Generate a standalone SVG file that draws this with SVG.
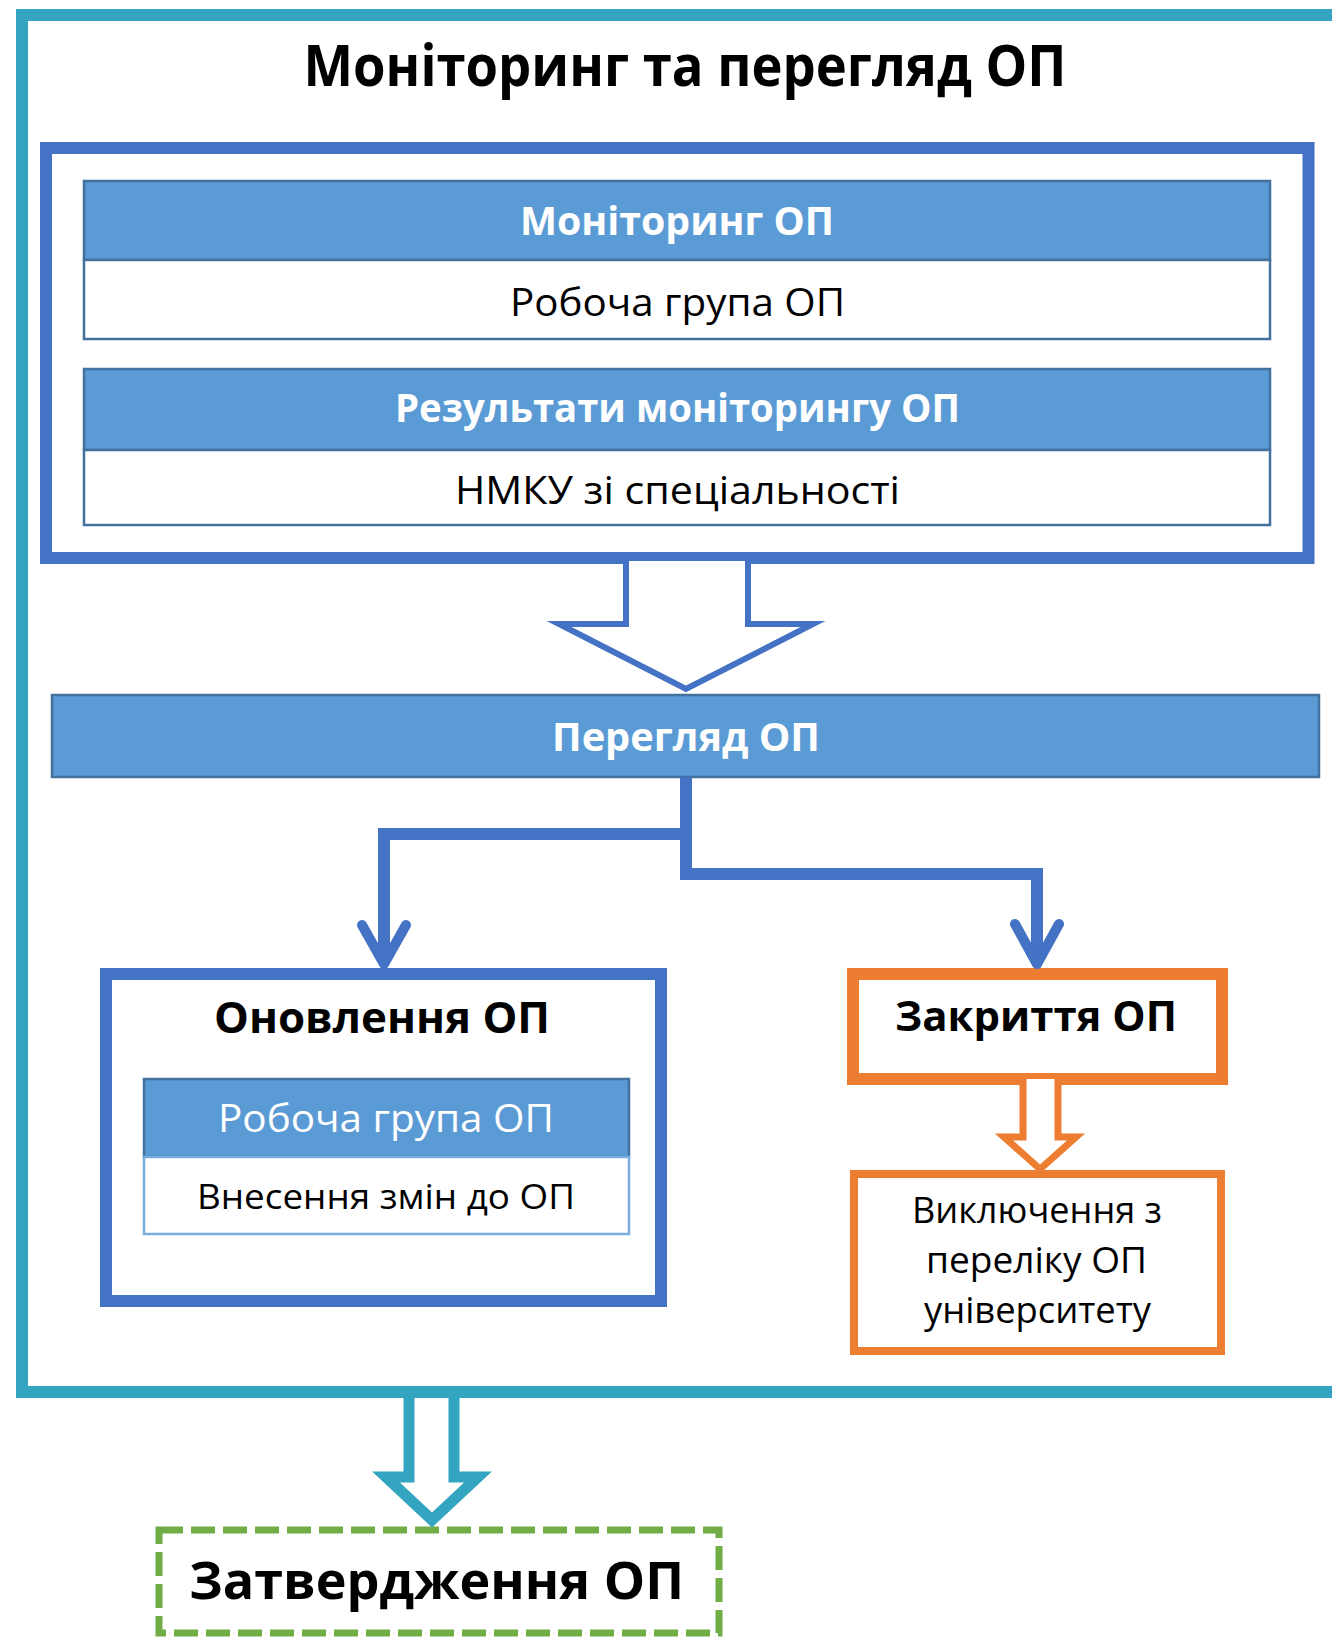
<svg xmlns="http://www.w3.org/2000/svg" width="1332" height="1640" viewBox="0 0 1332 1640">
<style>
text{font-family:"Open Sans","Noto Sans","DejaVu Sans",sans-serif;text-anchor:middle}
.b{font-weight:700}
.w{fill:#fff}
.k{fill:#000}
.hdr{fill:#5B9BD5;stroke:#41719C;stroke-width:2.5}
.row{fill:#fff;stroke:#41719C;stroke-width:2.5}
.row2{fill:#fff;stroke:#7AAEDF;stroke-width:2.5}
.conn{fill:none;stroke:#4472C4;stroke-width:12}
.chev{fill:none;stroke:#4472C4;stroke-width:10;stroke-linecap:round;stroke-linejoin:round}
</style>
<rect width="1332" height="1640" fill="#fff"/>
<g id="frame">
<rect x="22" y="15" width="1400" height="1377" fill="#fff" stroke="#33A5C1" stroke-width="12"/>
<text class="b k" x="685" y="86" font-size="57" textLength="763" lengthAdjust="spacingAndGlyphs">Моніторинг та перегляд ОП</text>
</g>
<g id="monitoring">
<rect x="46" y="148" width="1262.5" height="410" fill="#fff" stroke="#4472C4" stroke-width="12"/>
<rect class="hdr" x="84" y="181" width="1186" height="79"/>
<rect class="row" x="84" y="260" width="1186" height="79"/>
<text class="b w" x="677" y="235" font-size="39" textLength="314" lengthAdjust="spacingAndGlyphs">Моніторинг ОП</text>
<text class="k" x="677.5" y="315.5" font-size="39" textLength="335" lengthAdjust="spacingAndGlyphs">Робоча група ОП</text>
<rect class="hdr" x="84" y="369" width="1186" height="81"/>
<rect class="row" x="84" y="450" width="1186" height="75"/>
<text class="b w" x="677.5" y="422" font-size="39" textLength="565" lengthAdjust="spacingAndGlyphs">Результати моніторингу ОП</text>
<text class="k" x="677.5" y="504" font-size="39" textLength="445" lengthAdjust="spacingAndGlyphs">НМКУ зі спеціальності</text>
</g>
<g id="review">
<rect class="hdr" x="52" y="695" width="1267" height="82"/>
<text class="b w" x="686" y="751" font-size="40" textLength="268" lengthAdjust="spacingAndGlyphs">Перегляд ОП</text>
</g>
<g id="update">
<rect x="106" y="974" width="555" height="327" fill="#fff" stroke="#4472C4" stroke-width="12"/>
<text class="b k" x="382" y="1033" font-size="43" textLength="336" lengthAdjust="spacingAndGlyphs">Оновлення ОП</text>
<rect class="hdr" x="144" y="1079" width="485" height="78"/>
<rect class="row2" x="144" y="1157" width="485" height="77"/>
<text class="w" x="386" y="1132" font-size="39" textLength="336" lengthAdjust="spacingAndGlyphs">Робоча група ОП</text>
<text class="k" x="386" y="1209" font-size="35" textLength="378" lengthAdjust="spacingAndGlyphs">Внесення змін до ОП</text>
</g>
<g id="closure">
<rect x="853" y="974" width="369" height="105" fill="#fff" stroke="#ED7D31" stroke-width="12"/>
<text class="b k" x="1036" y="1031" font-size="42" textLength="282" lengthAdjust="spacingAndGlyphs">Закриття ОП</text>
</g>
<g id="exclusion">
<rect x="854" y="1174" width="367" height="177" fill="#fff" stroke="#ED7D31" stroke-width="8"/>
<text class="k" x="1037" y="1223" font-size="36" textLength="250" lengthAdjust="spacingAndGlyphs">Виключення з</text>
<text class="k" x="1036.5" y="1273" font-size="36" textLength="221" lengthAdjust="spacingAndGlyphs">переліку ОП</text>
<text class="k" x="1037.5" y="1323" font-size="36" textLength="227" lengthAdjust="spacingAndGlyphs">університету</text>
</g>
<g id="approval">
<rect x="159" y="1530" width="560" height="103" fill="#fff" stroke="#70AD47" stroke-width="7" stroke-dasharray="24 8"/>
<text class="b k" x="436.5" y="1599" font-size="52" textLength="495" lengthAdjust="spacingAndGlyphs">Затвердження ОП</text>
</g>
<g id="connectors">
<path d="M626,561 V624 H559 L686,689 L813,624 H748 V561" fill="#fff" stroke="#4472C4" stroke-width="6" stroke-miterlimit="10"/>
<path class="conn" d="M686,777 V874 H1037 V962"/>
<path class="conn" d="M686,834 H384 V960"/>
<polyline class="chev" points="362,925 384,964 406,925"/>
<polyline class="chev" points="1015,924 1037,964 1059,924"/>
<path d="M1023,1079 V1137 H1004 L1040,1169 L1076,1137 H1058 V1079" fill="#fff" stroke="#ED7D31" stroke-width="7" stroke-miterlimit="10"/>
<path d="M409,1398 V1477 H386 L432,1520 L478,1477 H454 V1398" fill="#fff" stroke="#33A5C1" stroke-width="11" stroke-miterlimit="10"/>
</g>
</svg>
